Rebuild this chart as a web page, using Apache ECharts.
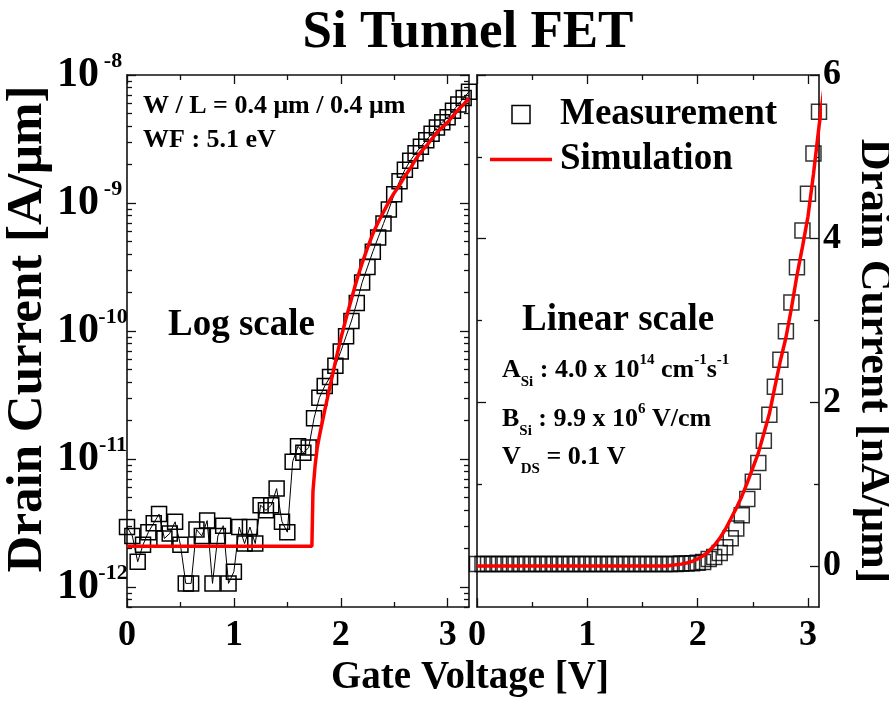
<!DOCTYPE html>
<html>
<head>
<meta charset="utf-8">
<script src="https://cdn.jsdelivr.net/npm/echarts@6/dist/echarts.min.js"></script>
<style>
  html, body { margin: 0; padding: 0; background: #fff; }
  #chart { width: 889px; height: 702px; }
</style>
</head>
<body>
<div id="chart"></div>
<script>
// Gate voltage sweep (V), 50 mV steps
const gateVoltage = [
  0.00, 0.05, 0.10, 0.15, 0.20, 0.25, 0.30, 0.35, 0.40, 0.45,
  0.50, 0.55, 0.60, 0.65, 0.70, 0.75, 0.80, 0.85, 0.90, 0.95,
  1.00, 1.05, 1.10, 1.15, 1.20, 1.25, 1.30, 1.35, 1.40, 1.45,
  1.50, 1.55, 1.60, 1.65, 1.70, 1.75, 1.80, 1.85, 1.90, 1.95,
  2.00, 2.05, 2.10, 2.15, 2.20, 2.25, 2.30, 2.35, 2.40, 2.45,
  2.50, 2.55, 2.60, 2.65, 2.70, 2.75, 2.80, 2.85, 2.90, 2.95,
  3.00, 3.05, 3.10, 3.15, 3.20
];

// Measured drain current, log panel (A/μm)
const measuredLog = [
  2.95e-12, 2.51e-12, 1.58e-12, 2.14e-12, 2.69e-12, 3.16e-12, 3.72e-12, 2.40e-12, 2.63e-12, 3.24e-12,
  2.14e-12, 1.07e-12, 1.07e-12, 2.82e-12, 2.51e-12, 3.31e-12, 1.07e-12, 2.51e-12, 3.02e-12, 1.07e-12,
  1.32e-12, 2.95e-12, 2.19e-12, 2.95e-12, 2.19e-12, 4.37e-12, 3.98e-12, 4.37e-12, 5.89e-12, 3.24e-12,
  2.69e-12, 9.55e-12, 1.26e-11, 1.12e-11, 1.23e-11, 2.09e-11, 3.02e-11, 3.72e-11, 4.37e-11, 5.37e-11,
  6.92e-11, 9.12e-11, 1.20e-10, 1.66e-10, 2.40e-10, 3.16e-10, 4.17e-10, 5.37e-10, 6.92e-10, 8.91e-10,
  1.17e-9, 1.48e-9, 1.82e-9, 2.14e-9, 2.45e-9, 2.75e-9, 3.09e-9, 3.47e-9, 3.89e-9, 4.27e-9,
  4.68e-9, 5.25e-9, 5.89e-9, 6.61e-9, 7.41e-9
];

// Measured drain current, linear panel (nA/μm), same voltage steps up to 3.10 V
const measuredLinear = [
  0.025, 0.025, 0.025, 0.025, 0.025, 0.025, 0.025, 0.025, 0.025, 0.025,
  0.025, 0.025, 0.025, 0.025, 0.025, 0.025, 0.025, 0.025, 0.025, 0.025,
  0.025, 0.025, 0.025, 0.025, 0.025, 0.025, 0.025, 0.025, 0.025, 0.025,
  0.025, 0.025, 0.025, 0.025, 0.025, 0.025, 0.025, 0.030, 0.030, 0.035,
  0.040, 0.050, 0.085, 0.11, 0.16, 0.23, 0.34, 0.46, 0.62, 0.82,
  1.03, 1.26, 1.53, 1.85, 2.19, 2.52, 2.87, 3.22, 3.65, 4.10,
  4.55, 5.04, 5.55
];

// Simulated transfer curve (A/μm)
const simVoltage = [
  0.00, 1.73, 1.74, 1.76, 1.78, 1.80, 1.85, 1.90, 1.95, 2.00,
  2.05, 2.10, 2.15, 2.20, 2.25, 2.30, 2.35, 2.40, 2.45, 2.50,
  2.55, 2.60, 2.65, 2.70, 2.75, 2.80, 2.85, 2.90, 2.95, 3.00,
  3.05, 3.10, 3.15, 3.20
];
const simCurrent = [
  2.09e-12, 2.09e-12, 5.62e-12, 8.91e-12, 1.23e-11, 1.51e-11, 2.40e-11, 3.72e-11, 5.75e-11, 8.71e-11,
  1.26e-10, 1.78e-10, 2.51e-10, 3.39e-10, 4.47e-10, 5.75e-10, 7.08e-10, 8.51e-10, 1.02e-9, 1.20e-9,
  1.38e-9, 1.62e-9, 1.86e-9, 2.19e-9, 2.51e-9, 2.79e-9, 3.15e-9, 3.55e-9, 3.90e-9, 4.27e-9,
  4.79e-9, 5.37e-9, 5.89e-9, 6.61e-9
];

// Tick values
const voltageTicks = [0, 1, 2, 3];
const voltageMinorTicks = [0.5, 1.5, 2.5];
const logTicks = [1e-12, 1e-11, 1e-10, 1e-9, 1e-8];
const linearTicks = [0, 2, 4, 6];
const linearMinorTicks = [1, 3, 5];

const FONT = '"Liberation Serif", "Times New Roman", Times, serif';
const INK = '#111';

// 2..9 × 10^e minor ticks for each decade of the log axis
const logMinorTicks = [];
for (let e = -13; e < -8; e++) {
  for (let k = 2; k <= 9; k++) logMinorTicks.push(k * Math.pow(10, e));
}

const frameLine = { show: true, onZero: false, lineStyle: { color: INK, width: 1.6 } };

function makeAxis(scale, position, tickValues, tickLen, withLine, extra) {
  return Object.assign({
    position: position,
    axisLine: withLine ? frameLine : { show: false, onZero: false },
    axisTick: {
      show: true, inside: true, length: tickLen, customValues: tickValues,
      lineStyle: { color: INK, width: 1.3 }
    },
    axisLabel: { show: false },
    splitLine: { show: false },
    minorTick: { show: false }
  }, scale, extra || {});
}

const boldText = { fontFamily: FONT, fontWeight: 'bold', color: '#000' };

const xScaleLog = { gridIndex: 0, type: 'value', min: 0, max: 3.2 };
const xScaleLin = { gridIndex: 1, type: 'value', min: 0, max: 3.1 };
const yScaleLog = { gridIndex: 0, type: 'log', logBase: 10, min: 7e-13, max: 1e-8 };
const yScaleLin = { gridIndex: 1, type: 'value', min: -0.5, max: 6 };

const voltageLabel = Object.assign({
  show: true, customValues: voltageTicks, margin: 11, fontSize: 36,
  formatter: v => String(v)
}, boldText);

const xAxes = [
  makeAxis(xScaleLog, 'bottom', voltageTicks, 9, true, { axisLabel: voltageLabel }),
  makeAxis(xScaleLog, 'bottom', voltageMinorTicks, 5, false),
  makeAxis(xScaleLog, 'top', voltageTicks, 9, true),
  makeAxis(xScaleLog, 'top', voltageMinorTicks, 5, false),
  makeAxis(xScaleLin, 'bottom', voltageTicks, 9, true, { axisLabel: voltageLabel }),
  makeAxis(xScaleLin, 'bottom', voltageMinorTicks, 5, false),
  makeAxis(xScaleLin, 'top', voltageTicks, 9, true),
  makeAxis(xScaleLin, 'top', voltageMinorTicks, 5, false)
];

const yAxes = [
  makeAxis(yScaleLog, 'left', logTicks, 9, true, {
    name: 'Drain Current [A/μm]',
    nameLocation: 'middle',
    nameGap: 74,
    nameMoveOverlap: false,
    nameTextStyle: Object.assign({ fontSize: 51, padding: [0, 0, 0, 24] }, boldText),
    axisLabel: {
      show: true, customValues: logTicks, margin: 0,
      formatter: v => '{b|10}{s|' + Math.round(Math.log10(v)) + '}',
      rich: {
        b: Object.assign({ fontSize: 42, lineHeight: 50 }, boldText),
        s: Object.assign({ fontSize: 22, verticalAlign: 'top', width: 28, align: 'left' }, boldText)
      }
    }
  }),
  makeAxis(yScaleLog, 'left', logMinorTicks, 5, false),
  makeAxis(yScaleLog, 'right', logTicks, 9, true),
  makeAxis(yScaleLog, 'right', logMinorTicks, 5, false),
  makeAxis(yScaleLin, 'left', linearTicks, 9, true),
  makeAxis(yScaleLin, 'left', linearMinorTicks, 5, false),
  makeAxis(yScaleLin, 'right', linearTicks, 9, true, {
    name: 'Drain Current [nA/μm]',
    nameLocation: 'middle',
    nameGap: 32,
    nameRotate: -90,
    nameMoveOverlap: false,
    nameTextStyle: Object.assign({ fontSize: 44, padding: [0, 0, 0, 40] }, boldText),
    axisLabel: Object.assign({
      show: true, customValues: linearTicks, margin: 4, fontSize: 36,
      formatter: v => String(v)
    }, boldText)
  }),
  makeAxis(yScaleLin, 'right', linearMinorTicks, 5, false)
];

const toNano = a => a * 1e9;

const squareStyle = { color: 'rgba(0,0,0,0)', borderColor: '#000', borderWidth: 1.5 };

const series = [
  {
    name: 'Measurement', type: 'line', xAxisIndex: 0, yAxisIndex: 0,
    data: gateVoltage.map((v, i) => [v, measuredLog[i]]),
    symbol: 'rect', symbolSize: 15, showSymbol: true,
    itemStyle: squareStyle,
    lineStyle: { color: '#000', width: 1 },
    z: 2
  },
  {
    name: 'Simulation', type: 'line', xAxisIndex: 0, yAxisIndex: 0,
    data: simVoltage.map((v, i) => [v, simCurrent[i]]),
    symbol: 'none', lineStyle: { color: '#ff0000', width: 3.5 },
    itemStyle: { color: '#ff0000' },
    z: 3
  },
  {
    name: 'Measurement', type: 'scatter', xAxisIndex: 4, yAxisIndex: 6,
    data: measuredLinear.map((c, i) => [gateVoltage[i], c]),
    symbol: 'rect', symbolSize: 15,
    itemStyle: squareStyle,
    z: 2
  },
  {
    name: 'Simulation', type: 'line', xAxisIndex: 4, yAxisIndex: 6,
    data: simVoltage.map((v, i) => [v, toNano(simCurrent[i])]),
    symbol: 'none', lineStyle: { color: '#ff0000', width: 3.5 },
    itemStyle: { color: '#ff0000' },
    z: 3
  }
];

function label(x, y, text, size, align) {
  return {
    type: 'text', x: x, y: y, silent: true,
    style: {
      text: text, fill: '#000',
      font: 'bold ' + size + 'px ' + FONT,
      align: align || 'left', verticalAlign: 'middle'
    }
  };
}

const mainTok = { fontFamily: FONT, fontWeight: 'bold', fontSize: 26, lineHeight: 40, fill: '#000' };
const supTok = { fontFamily: FONT, fontWeight: 'bold', fontSize: 15, verticalAlign: 'top', padding: [3, 0, 0, 0], fill: '#000' };
const subTok = { fontFamily: FONT, fontWeight: 'bold', fontSize: 15, verticalAlign: 'bottom', fill: '#000' };

function richLabel(x, y, text) {
  return {
    type: 'text', x: x, y: y, silent: true,
    style: {
      text: text, align: 'left', verticalAlign: 'middle',
      rich: { m: mainTok, sup: supTok, sub: subTok }
    }
  };
}

const option = {
  animation: false,
  backgroundColor: '#fff',
  grid: [
    { left: 127, top: 75, width: 342, height: 532, outerBoundsMode: 'none', containLabel: false },
    { left: 477, top: 75, width: 342, height: 532, outerBoundsMode: 'none', containLabel: false }
  ],
  xAxis: xAxes,
  yAxis: yAxes,
  legend: {
    left: 490, top: 96, orient: 'vertical', padding: 0, itemGap: 8,
    itemWidth: 62, itemHeight: 18, symbolKeepAspect: true,
    selectedMode: false,
    textStyle: Object.assign({ fontSize: 37, padding: [0, 0, 0, 3] }, boldText),
    data: [
      { name: 'Measurement', icon: 'path://M0,0H10V10H0Z', itemStyle: { color: 'rgba(0,0,0,0)', borderColor: '#000', borderWidth: 1.5 } },
      { name: 'Simulation', icon: 'path://M0,0H62V3.5H0Z', itemStyle: { color: '#ff0000', borderWidth: 0 } }
    ]
  },
  series: series,
  graphic: [
    label(468, 33, 'Si Tunnel FET', 53, 'center'),
    label(470, 678, 'Gate Voltage [V]', 39, 'center'),
    label(143, 106, 'W / L = 0.4 μm / 0.4 μm', 26),
    label(143, 140, 'WF : 5.1 eV', 26),
    label(168, 325, 'Log scale', 37),
    label(522, 320, 'Linear scale', 37),
    richLabel(502, 370, '{m|A}{sub|Si}{m| : 4.0 x 10}{sup|14}{m| cm}{sup|-1}{m|s}{sup|-1}'),
    richLabel(502, 419, '{m|B}{sub|Si}{m| : 9.9 x 10}{sup|6}{m| V/cm}'),
    richLabel(502, 457, '{m|V}{sub|DS}{m| = 0.1 V}')
  ]
};

const chart = echarts.init(document.getElementById('chart'), null, { renderer: 'canvas' });
chart.setOption(option);
</script>
</body>
</html>
